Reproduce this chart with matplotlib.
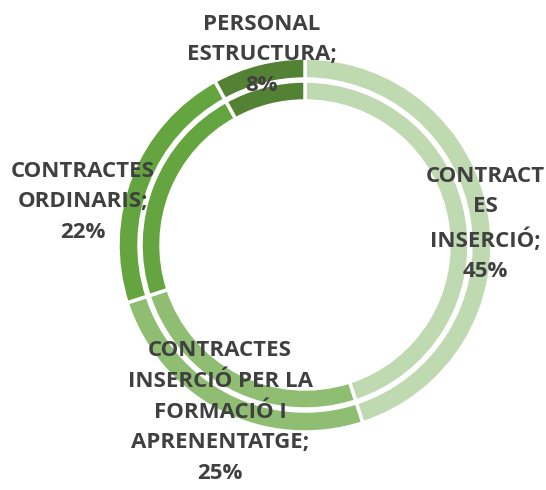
import matplotlib.pyplot as plt

categories = ['CONTRACT\nES\nINSERCIÓ;',
              'CONTRACTES\nINSERCIÓ PER LA\nFORMACIÓ I\nAPRENENTATGE;',
              'CONTRACTES\nORDINARIS;',
              'PERSONAL\nESTRUCTURA;']
values = [45, 25, 22, 8]
colors = ['#BFD9B1', '#8FBE72', '#65A540', '#548235']
label_pos = [(485, 266), (220, 78), (83, 288), (262, 435)]  # pixel coords, y from bottom

plt.rcParams['font.family'] = ['Open Sans', 'DejaVu Sans']

fig = plt.figure(figsize=(5.46, 4.9), dpi=100)
ax = fig.add_axes([0, 0, 1, 1])

cx, cy = 305, 245
# anillo exterior
ax.pie(values, colors=colors, startangle=90, counterclock=False,
       radius=187, center=(cx, cy), frame=True,
       wedgeprops=dict(width=21, edgecolor='white', linewidth=2.5))
# anillo interior
ax.pie(values, colors=colors, startangle=90, counterclock=False,
       radius=164, center=(cx, cy), frame=True,
       wedgeprops=dict(width=20, edgecolor='white', linewidth=2.5))
ax.set_xlim(0, 546)
ax.set_ylim(0, 490)
ax.axis('off')

for cat, v, (x, y) in zip(categories, values, label_pos):
    ax.text(x, y, f'{cat}\n{v}%', ha='center', va='center',
            fontsize=16, fontweight='bold', color='#404040', linespacing=1.6)

plt.savefig('out.png', dpi=100)
